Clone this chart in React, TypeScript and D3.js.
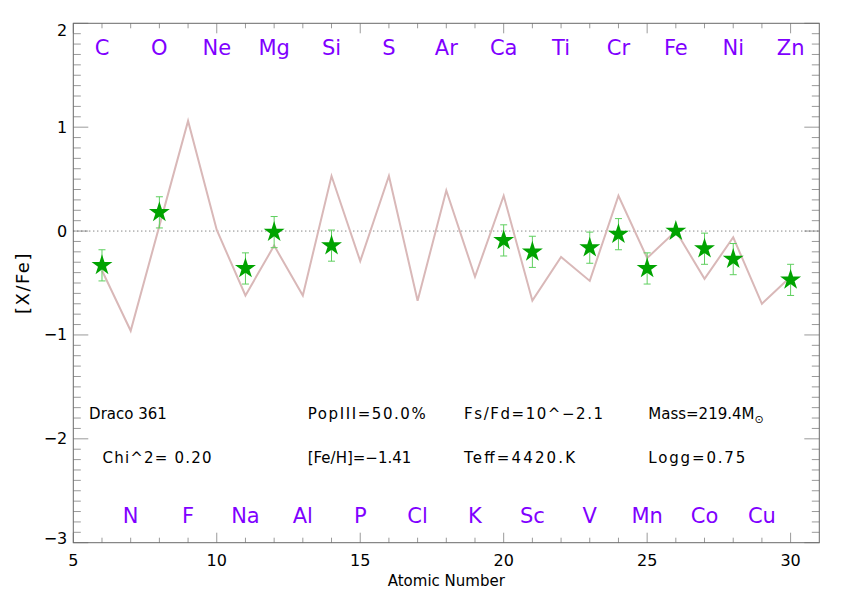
import React from "react";
import * as d3 from "d3";

// ---- data ----
const modelZ = [6, 7, 8, 9, 10, 11, 12, 13, 14, 15, 16, 17, 18, 19, 20, 21, 22, 23, 24, 25, 26, 27, 28, 29, 30];
const modelVals = [-0.38, -0.96, 0.05, 1.06, 0.01, -0.62, -0.14, -0.62, 0.53, -0.29, 0.53, -0.67, 0.39, -0.44, 0.34, -0.67, -0.25, -0.48, 0.34, -0.26, 0.0, -0.46, -0.06, -0.7, -0.44];

const obsZ = [6, 8, 11, 12, 14, 20, 21, 23, 24, 25, 26, 27, 28, 30];
const obsVals = [-0.33, 0.18, -0.36, -0.01, -0.14, -0.09, -0.2, -0.16, -0.03, -0.36, 0.0, -0.17, -0.27, -0.47];
const obsErr = [0.15, 0.15, 0.15, 0.15, 0.15, 0.15, 0.15, 0.15, 0.15, 0.15, 0, 0.15, 0.15, 0.15];

const topElements = ["C", "O", "Ne", "Mg", "Si", "S", "Ar", "Ca", "Ti", "Cr", "Fe", "Ni", "Zn"];
const topZ = [6, 8, 10, 12, 14, 16, 18, 20, 22, 24, 26, 28, 30];
const bottomElements = ["N", "F", "Na", "Al", "P", "Cl", "K", "Sc", "V", "Mn", "Co", "Cu"];
const bottomZ = [7, 9, 11, 13, 15, 17, 19, 21, 23, 25, 27, 29];

const xTicks = [5, 10, 15, 20, 25, 30];
const yTicks = [2, 1, 0, -1, -2, -3];

const annotations = [
  { text: "Draco 361", z: 5.55, v: -1.81 },
  { text: "PopIII=50.0%", z: 13.17, v: -1.81 },
  { text: "Fs/Fd=10^\u22122.1", z: 18.62, v: -1.81 },
  { text: "Chi^2= 0.20", z: 6.02, v: -2.235 },
  { text: "[Fe/H]=\u22121.41", z: 13.17, v: -2.235 },
  { text: "Teff=4420.K", z: 18.62, v: -2.235 },
  { text: "Logg=0.75", z: 25.04, v: -2.235 },
];

// rendered widths (px) of the original's wider vector-font strings
const textWidths: Record<string, number> = {
  "PopIII=50.0%": 118,
  "Fs/Fd=10^\u22122.1": 139,
  "Chi^2= 0.20": 109,
  "Teff=4420.K": 111,
  "Logg=0.75": 97,
};

const W = 842;
const H = 590;
const FONT = "'DejaVu Sans', sans-serif";

export default function App() {
  const x = d3.scaleLinear().domain([5, 31]).range([73.3, 819.3]);
  const y = d3.scaleLinear().domain([-3, 2]).range([542.7, 23.3]);
  const [x0, x1] = x.range();
  const [y0, y1] = y.range(); // y0 bottom, y1 top

  const line = d3
    .line<number>()
    .x((_, i) => x(modelZ[i]))
    .y((d) => y(d));

  const star = d3.symbol().type(d3.symbolStar).size(136)();

  const xMinor = d3.range(6, 31, 1).filter((v) => v % 5 !== 0);
  const yMinor = d3.range(-30, 20, 1).map((v) => v / 10).filter((v) => Math.abs(v - Math.round(v)) > 1e-6);

  const axisColor = "#6a6a6a";
  const tickColor = "#9a9a9a";

  return (
    <svg width={W} height={H} style={{ position: "absolute", left: 0, top: 0, background: "#fff" }} fontFamily={FONT}>
      <rect x={0} y={0} width={W} height={H} fill="#fff" />
      {/* minor & major ticks */}
      {xMinor.map((v) => (
        <g key={"xm" + v} stroke={tickColor} strokeWidth={1}>
          <line x1={x(v)} x2={x(v)} y1={y0} y2={y0 - 5} />
          <line x1={x(v)} x2={x(v)} y1={y1} y2={y1 + 5} />
        </g>
      ))}
      {xTicks.map((v) => (
        <g key={"xM" + v} stroke={tickColor} strokeWidth={1}>
          <line x1={x(v)} x2={x(v)} y1={y0} y2={y0 - 10} />
          <line x1={x(v)} x2={x(v)} y1={y1} y2={y1 + 10} />
        </g>
      ))}
      {yMinor.map((v) => (
        <g key={"ym" + v} stroke={tickColor} strokeWidth={1}>
          <line x1={x0} x2={x0 + 7.5} y1={y(v)} y2={y(v)} />
          <line x1={x1} x2={x1 - 7.5} y1={y(v)} y2={y(v)} />
        </g>
      ))}
      {yTicks.map((v) => (
        <g key={"yM" + v} stroke={tickColor} strokeWidth={1}>
          <line x1={x0} x2={x0 + 15} y1={y(v)} y2={y(v)} />
          <line x1={x1} x2={x1 - 15} y1={y(v)} y2={y(v)} />
        </g>
      ))}
      {/* frame */}
      <rect x={x0} y={y1} width={x1 - x0} height={y0 - y1} fill="none" stroke={axisColor} strokeWidth={1} />

      {/* tick labels */}
      {xTicks.map((v) => (
        <text key={"xl" + v} x={x(v)} y={566} textAnchor="middle" fontSize={16} fill="#000">
          {v}
        </text>
      ))}
      {yTicks.map((v) => (
        <text
          key={"yl" + v}
          x={x0 - 6}
          y={Math.min(Math.max(y(v), 30), 538)}
          textAnchor="end"
          dominantBaseline="central"
          fontSize={16}
          fill="#000"
        >
          {v < 0 ? "\u2212" + Math.abs(v) : String(v)}
        </text>
      ))}
      <text x={(x0 + x1) / 2} y={586} textAnchor="middle" fontSize={15} fill="#000">
        Atomic Number
      </text>
      <text
        transform={`translate(29,${(y0 + y1) / 2}) rotate(-90)`}
        textAnchor="middle"
        fontSize={18}
        letterSpacing={1.5}
        fill="#000"
      >
        [X/Fe]
      </text>

      {/* zero dotted line */}
      <line x1={x0} x2={x1} y1={y(0)} y2={y(0)} stroke="#555" strokeWidth={1} strokeDasharray="1,3" />

      {/* model line */}
      <path d={line(modelVals) || ""} fill="none" stroke="#d9b8b8" strokeWidth={2} />

      {/* error bars */}
      {obsZ.map((z, i) =>
        obsErr[i] > 0 ? (
          <g key={"e" + z} stroke="#5fcf5f" strokeWidth={1}>
            <line x1={x(z)} x2={x(z)} y1={y(obsVals[i] - obsErr[i])} y2={y(obsVals[i] + obsErr[i])} />
            <line x1={x(z) - 3.5} x2={x(z) + 3.5} y1={y(obsVals[i] - obsErr[i])} y2={y(obsVals[i] - obsErr[i])} />
            <line x1={x(z) - 3.5} x2={x(z) + 3.5} y1={y(obsVals[i] + obsErr[i])} y2={y(obsVals[i] + obsErr[i])} />
          </g>
        ) : null
      )}
      {/* stars */}
      {obsZ.map((z, i) => (
        <path key={"s" + z} d={star || ""} transform={`translate(${x(z)},${y(obsVals[i])})`} fill="#00a300" />
      ))}

      {/* element labels */}
      {topElements.map((el, i) => (
        <text key={"te" + el} x={x(topZ[i])} y={y(1.695)} textAnchor="middle" fontSize={21} fill="#7f00ff">
          {el}
        </text>
      ))}
      {bottomElements.map((el, i) => (
        <text key={"be" + el} x={x(bottomZ[i])} y={y(-2.81)} textAnchor="middle" fontSize={21} fill="#7f00ff">
          {el}
        </text>
      ))}

      {/* annotations */}
      {annotations.map((a) => (
        <text
          key={a.text}
          x={x(a.z)}
          y={y(a.v)}
          fontSize={15}
          fill="#000"
          textLength={textWidths[a.text]}
          lengthAdjust={textWidths[a.text] ? "spacing" : undefined}
        >
          {a.text}
        </text>
      ))}
      <text x={x(25.04)} y={y(-1.81)} fontSize={15} fill="#000">
        Mass=219.4M
        <tspan fontSize={11} dy={4}>{"\u2299"}</tspan>
      </text>
    </svg>
  );
}
